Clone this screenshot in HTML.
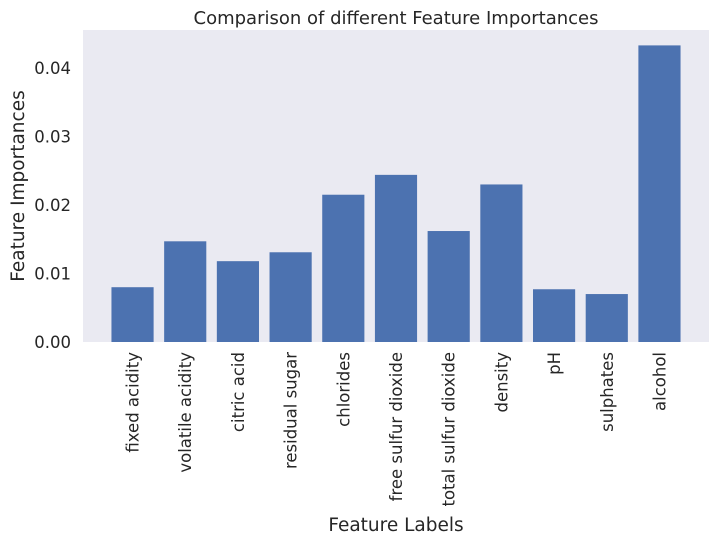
<!DOCTYPE html>
<html><head><meta charset="utf-8">
<style>
body{margin:0;background:#fff;}
svg{display:block;font-family:"DejaVu Sans","Liberation Sans",sans-serif;}
</style></head>
<body>
<svg id="chart" width="720" height="540">
<rect x="83" y="30" width="626" height="312" fill="#eaeaf2"/>
<text x="396" y="24" font-size="18" text-anchor="middle" fill="#262626">Comparison of different Feature Importances</text>
<text x="396" y="531" font-size="18.5" text-anchor="middle" fill="#262626">Feature Labels</text>
<text transform="translate(24,186) rotate(-90)" font-size="18.5" text-anchor="middle" fill="#262626">Feature Importances</text>
<g id="bars"></g><g id="xt"></g><g id="yt"></g>
</svg>
<script>
const categories=["fixed acidity","volatile acidity","citric acid","residual sugar","chlorides","free sulfur dioxide","total sulfur dioxide","density","pH","sulphates","alcohol"];
const values=[0.0080,0.0147,0.0118,0.0131,0.0215,0.0244,0.0162,0.0230,0.0077,0.0070,0.0433];
const yTicks=[0,0.01,0.02,0.03,0.04];
const yTickLabels=["0.00","0.01","0.02","0.03","0.04"];
const NS="http://www.w3.org/2000/svg";
const y=v=>342-v*6850;
const step=626/(categories.length+0.88);
const x=i=>83+(i+0.94)*step;
const bw=step*0.8;
const bars=document.getElementById('bars'),xt=document.getElementById('xt'),yt=document.getElementById('yt');
values.forEach((v,i)=>{
  const r=document.createElementNS(NS,'rect');
  r.setAttribute('x',x(i)-bw/2);r.setAttribute('y',y(v));
  r.setAttribute('width',bw);r.setAttribute('height',y(0)-y(v));
  r.setAttribute('fill','#4c72b0');
  
  
  bars.appendChild(r);
});
categories.forEach((c,i)=>{
  const t=document.createElementNS(NS,'text');
  t.setAttribute('transform',`translate(${x(i)+6},352) rotate(-90)`);
  t.setAttribute('font-size','16.5');t.setAttribute('text-anchor','end');t.setAttribute('fill','#262626');
  t.textContent=c;
  
  
  xt.appendChild(t);
});
yTicks.forEach((v,i)=>{
  const t=document.createElementNS(NS,'text');
  t.setAttribute('x',71);t.setAttribute('y',y(v)+6);
  t.setAttribute('font-size','16.5');t.setAttribute('text-anchor','end');t.setAttribute('fill','#262626');
  t.textContent=yTickLabels[i];
  
  
  yt.appendChild(t);
});
</script>
</body></html>
